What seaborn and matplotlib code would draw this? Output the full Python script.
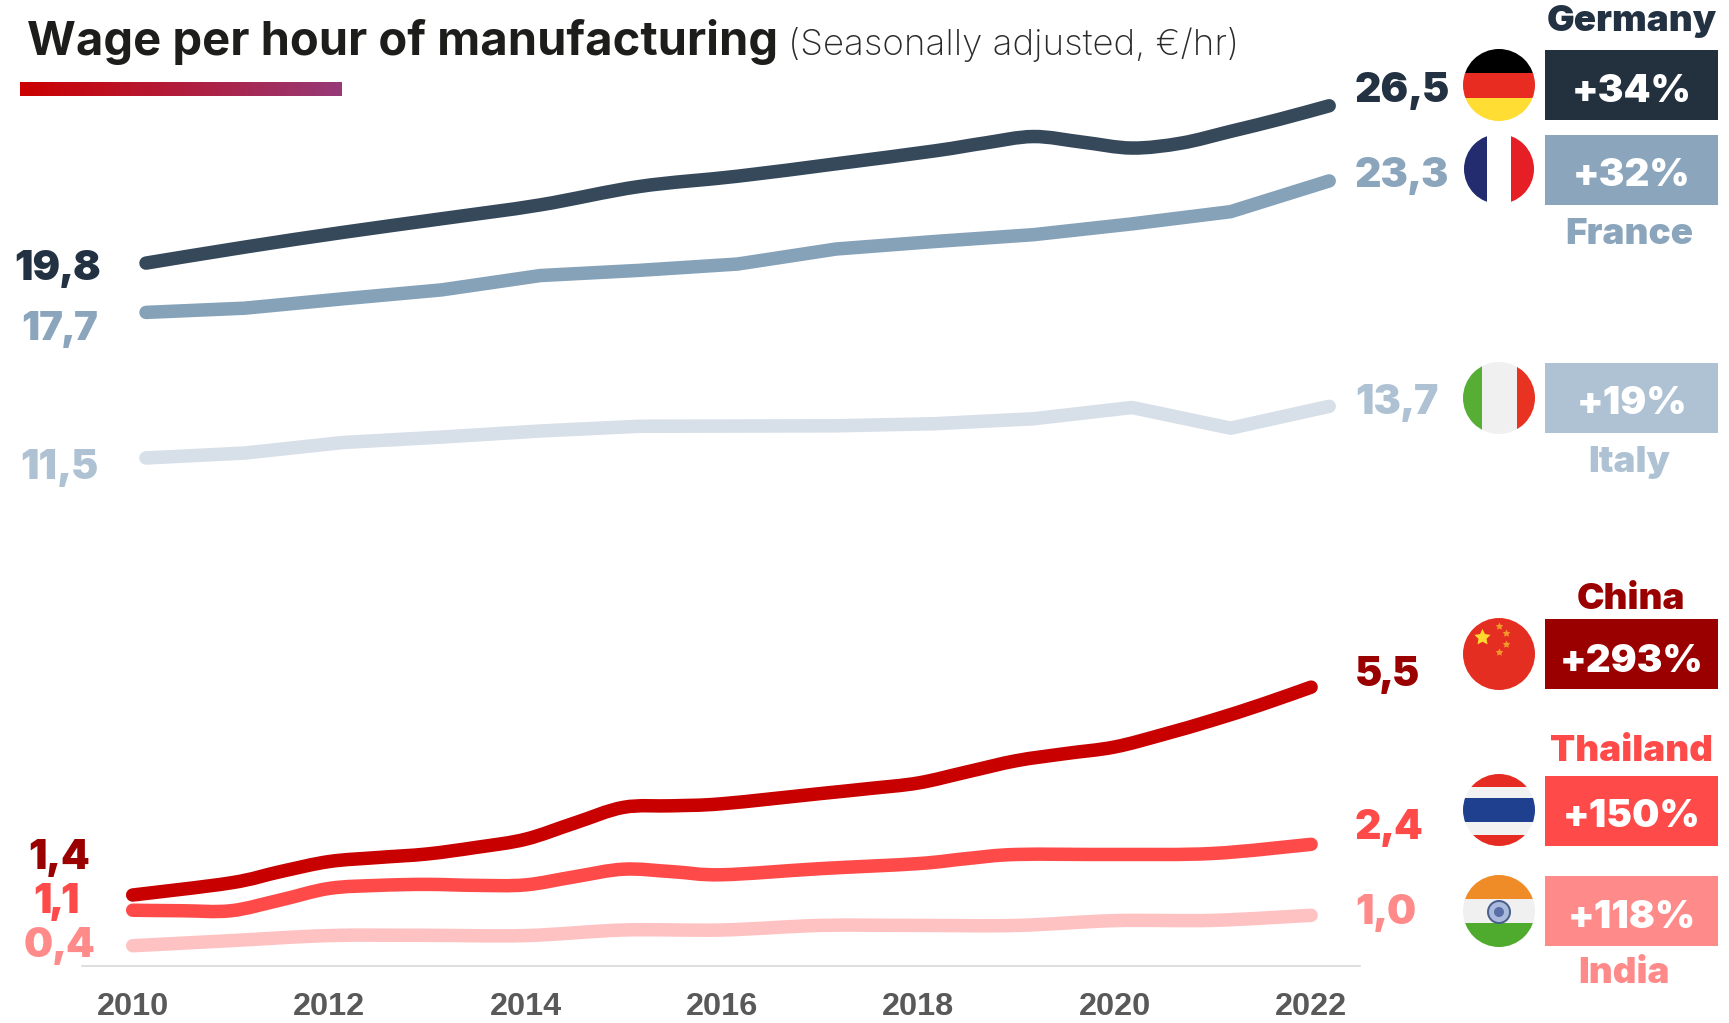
import numpy as np
import pandas as pd
import seaborn as sns
import matplotlib
matplotlib.use("Agg")
import matplotlib.pyplot as plt
from matplotlib.patches import Circle, Rectangle
from matplotlib.path import Path
from matplotlib.patheffects import AbstractPathEffect
from matplotlib.transforms import IdentityTransform

W, H, DPI = 1729, 1023, 100
PX = 72 / DPI

# Hourly wages, upper group (EUR/hr)
GERMANY_YEARS = [2010, 2011, 2012, 2013, 2014, 2015, 2016, 2017, 2018, 2018.5, 2019,
                 2019.5, 2020, 2020.5, 2021, 2021.5, 2022]
GERMANY = [19.8, 20.48, 21.11, 21.69, 22.28, 23.06, 23.50, 24.03, 24.58, 24.91, 25.19,
           24.95, 24.70, 24.91, 25.41, 25.93, 26.5]
YEARS = list(range(2010, 2023))
FRANCE = [17.7, 17.88, 18.28, 18.66, 19.27, 19.49, 19.76, 20.40, 20.72, 21.01, 21.47, 21.99, 23.3]
ITALY = [11.5, 11.71, 12.16, 12.39, 12.65, 12.85, 12.86, 12.87, 12.96, 13.17, 13.65, 12.77, 13.7]

# Hourly wages, lower group (EUR/hr)
CHINA_YEARS = [2010, 2011, 2011.5, 2012, 2012.5, 2013, 2013.5, 2014, 2014.5, 2015, 2015.5, 2016,
               2017, 2017.5, 2018, 2018.5, 2019, 2019.5, 2020, 2020.5, 2021, 2021.5, 2022]
CHINA = [1.4, 1.64, 1.86, 2.06, 2.14, 2.21, 2.34, 2.50, 2.82, 3.13, 3.16, 3.20,
         3.40, 3.50, 3.61, 3.83, 4.05, 4.19, 4.32, 4.57, 4.85, 5.16, 5.5]
THAILAND_YEARS = [2010, 2010.5, 2011, 2011.5, 2012, 2012.5, 2013, 2013.5, 2014, 2014.5, 2015,
                  2015.5, 2016, 2017, 2018, 2018.5, 2019, 2020, 2021, 2022]
THAILAND = [1.1, 1.09, 1.09, 1.30, 1.53, 1.59, 1.61, 1.59, 1.60, 1.76, 1.91,
            1.86, 1.80, 1.92, 2.02, 2.12, 2.20, 2.20, 2.22, 2.4]
INDIA = [0.4, 0.5, 0.6, 0.605, 0.6, 0.71, 0.71, 0.80, 0.80, 0.80, 0.895, 0.90, 1.0]

TICK_YEARS = list(range(2010, 2023, 2))

START_LABELS = ["19,8", "17,7", "11,5", "1,4", "1,1", "0,4"]
END_LABELS = ["26,5", "23,3", "13,7", "5,5", "2,4", "1,0"]
CHANGES = ["+34%", "+32%", "+19%", "+293%", "+150%", "+118%"]
COUNTRIES = ["Germany", "France", "Italy", "China", "Thailand", "India"]

LINE_COLORS = {"Germany": "#36495B", "France": "#86A2B9", "Italy": "#D7DFE8",
               "China": "#C90000", "Thailand": "#FF4A4A", "India": "#FFC2C2"}
TEXT_COLORS = ["#233242", "#8AA5BC", "#AEC2D3", "#9B0000", "#FF4A4A", "#FF8A8A"]
BOX_COLORS = ["#23313F", "#8AA5BC", "#AEC2D3", "#9B0000", "#FF4A4A", "#FF8A8A"]
SMOOTH_SERIES = {"Germany", "China", "Thailand", "India"}


class SmoothStroke(AbstractPathEffect):
    """Strokes a polyline as a Catmull-Rom curve through its own vertices."""

    def draw_path(self, renderer, gc, tpath, affine, rgbFace=None):
        pts = affine.transform(tpath.vertices)
        pad = np.vstack([pts[0], pts, pts[-1]])
        verts, codes = [pts[0]], [Path.MOVETO]
        for i in range(1, len(pad) - 2):
            p0, p1, p2, p3 = pad[i - 1], pad[i], pad[i + 1], pad[i + 2]
            verts += [p1 + (p2 - p0) / 6, p2 - (p3 - p1) / 6, p2]
            codes += [Path.CURVE4] * 3
        renderer.draw_path(gc, Path(np.array(verts), codes), IdentityTransform(), None)


def long_table(rows):
    return pd.DataFrame(
        [(name, y, v) for name, ys, vs in rows for y, v in zip(ys, vs)],
        columns=["country", "year", "wage"],
    )


upper = long_table([("Germany", GERMANY_YEARS, GERMANY), ("France", YEARS, FRANCE), ("Italy", YEARS, ITALY)])
lower = long_table([("China", CHINA_YEARS, CHINA), ("Thailand", THAILAND_YEARS, THAILAND), ("India", YEARS, INDIA)])

sns.set_theme(style="white")
plt.rcParams["font.family"] = ["Inter", "DejaVu Sans"]

fig = plt.figure(figsize=(W / DPI, H / DPI), dpi=DPI, facecolor="white")


def px_axes(left, right, top, bottom):
    return fig.add_axes([left / W, 1 - bottom / H, (right - left) / W, (bottom - top) / H])


# The two groups have separate vertical scales, each on its own axes.
ax_low = px_axes(82, 1360, 600, 966)
ax_low.set_xlim(2010 - (132.7 - 82) / 98.2, 2010 + (1360 - 132.7) / 98.2)
ax_low.set_ylim(0, (966 - 600) / 50.7)
ax_up = px_axes(82, 1360, 60, 728)
ax_up.set_xlim(2010 - (146 - 82) / 98.6, 2010 + (1360 - 146) / 98.6)
ax_up.set_ylim(0, (728 - 60) / 23.48)

for ax, table in ((ax_low, lower), (ax_up, upper)):
    order = list(table["country"].unique())
    sns.lineplot(data=table, x="year", y="wage", hue="country", hue_order=order, palette=LINE_COLORS,
                 errorbar=None, estimator=None, linewidth=13.5 * PX, legend=False, ax=ax,
                 solid_capstyle="round", solid_joinstyle="round")
    for ln, name in zip(ax.get_lines(), order):
        ln.set_solid_capstyle("round")
        ln.set_clip_on(False)
        if name in SMOOTH_SERIES:
            ln.set_path_effects([SmoothStroke()])
    ax.set_xlabel("")
    ax.set_ylabel("")
    ax.set_yticks([])
    ax.patch.set_alpha(0)

sns.despine(ax=ax_up, left=True, bottom=True)
ax_up.set_xticks([])
sns.despine(ax=ax_low, left=True)
ax_low.spines["bottom"].set_color("#D4D4D4")
ax_low.spines["bottom"].set_linewidth(1.5 * PX)
ax_low.set_xticks(TICK_YEARS)
ax_low.set_xticklabels([str(y) for y in TICK_YEARS], family="Liberation Sans", fontweight="bold",
                       fontsize=32.5 * PX, color="#595959")
ax_low.tick_params(axis="x", length=0, pad=26 * PX)

# Overlay in pixel units for the title, labels, boxes and flags.
ov = fig.add_axes([0, 0, 1, 1], zorder=10)
ov.set_xlim(0, W)
ov.set_ylim(H, 0)
ov.axis("off")
rend = fig.canvas.get_renderer()


def txt(x, y, s, size, color, weight="black", ha="left"):
    return ov.text(x, y, s, fontsize=size * PX, color=color, fontweight=weight, ha=ha, va="baseline",
                   family=["Inter", "DejaVu Sans"])


def width(s, size):
    t = txt(0, 0, s, size, "k")
    w = t.get_window_extent(rend).width
    t.remove()
    return w


def value_label(x, y, s, size, color, kern):
    # Number with a closed-up decimal comma.
    head, tail = s.split(",")
    txt(x, y, head, size, color)
    txt(x + width(head + ",", size) - width(",", size) - kern / 2, y, ",", size, color)
    txt(x + width(s, size) - width(tail, size) - kern, y, tail, size, color)


txt(27.5, 55, "Wage per hour of manufacturing", 47.1, "#1D1D1B", weight="bold")
txt(788, 55, "(Seasonally adjusted, €/hr)", 36.7, "#2A2A2A", weight="light")

bar = np.linspace(0, 1, 256)[None, :, None]
bar_rgb = (1 - bar) * np.array([0xCC, 0x00, 0x00]) / 255 + bar * np.array([0x96, 0x3A, 0x78]) / 255
ov.imshow(bar_rgb, extent=(20, 342, 96, 82), aspect="auto", zorder=1)
ov.set_xlim(0, W)
ov.set_ylim(H, 0)

# Start and end values
START_POS = [(14, 280), (21, 340.5), (20, 479), (28, 869), (33, 913), (24, 957)]
START_SIZE = [41, 40, 41, 41, 41, 41]
START_KERN = [3, 4, 1, 1, 6, 3]
END_POS = [(1355, 102), (1355, 187), (1355, 414), (1355, 686), (1355, 839), (1355, 924)]
END_KERN = [2, 4, 2, 6, 3, 2]
for s, (x, y), c, k, size in zip(START_LABELS, START_POS, TEXT_COLORS, START_KERN, START_SIZE):
    value_label(x, y, s, size, c, k)
for s, (x, y), c, k in zip(END_LABELS, END_POS, TEXT_COLORS, END_KERN):
    value_label(x, y, s, 41, c, k)

# Change boxes and country names
BOX_SPANS = [(50, 120), (135, 205), (363, 433), (619, 689), (776, 846), (876, 946)]
CHANGE_BASE = [102, 186, 414, 672, 827, 928]
NAME_POS = [(1632, 31), (1629, 244), (1629, 472), (1631, 609), (1632, 761), (1624, 983)]
for (y0, y1), col, s, base, name, (nx, ny), tc in zip(BOX_SPANS, BOX_COLORS, CHANGES, CHANGE_BASE,
                                                      COUNTRIES, NAME_POS, TEXT_COLORS):
    ov.add_patch(Rectangle((1545, y0), 173, y1 - y0, color=col, lw=0))
    txt(1632, base, s, 38.5, "white", ha="center")
    txt(nx, ny, name, 36.8, tc, ha="center")


def flag(cy, bands, vertical=False, cx=1499, r=36):
    clip = Circle((cx, cy), r, transform=ov.transData)
    for start, stop, color in bands:
        if vertical:
            p = Rectangle((start, cy - r), stop - start, 2 * r, color=color, lw=0, zorder=3)
        else:
            p = Rectangle((cx - r, start), 2 * r, stop - start, color=color, lw=0, zorder=3)
        ov.add_patch(p)
        p.set_clip_path(clip)


flag(85, [(49, 73, "#000000"), (73, 98, "#E82C22"), (98, 121, "#FFDD33")])
flag(169, [(1463, 1487, "#232C6E"), (1487, 1511, "#FFFFFF"), (1511, 1535, "#E61E26")], vertical=True, r=35)
flag(398, [(1463, 1482, "#57AE35"), (1482, 1517, "#F0F0F0"), (1517, 1535, "#E83222")], vertical=True)
flag(654, [(618, 690, "#E52E22")])
flag(810, [(774, 787, "#E62C22"), (787, 798, "#F2F2F2"), (798, 822, "#1F3F8F"),
           (822, 835, "#F2F2F2"), (835, 846, "#E62C22")])
flag(911, [(875, 899, "#F08C28"), (899, 923, "#F0F0F0"), (923, 947, "#4FAB2E")])

# Stars of the Chinese flag
ov.scatter([1482], [637], marker=(5, 1), s=(17 * PX) ** 2, color="#FFD92E", lw=0, zorder=4)
ov.scatter([1499, 1506, 1506, 1499], [626, 633, 644, 652], marker=(5, 1), s=(8 * PX) ** 2,
           color="#F19A2A", lw=0, zorder=4)
# Wheel of the Indian flag
ov.add_patch(Circle((1499, 912), 11, fc="#A9BADD", ec="#4A5F8C", lw=2 * PX, zorder=4))
ov.add_patch(Circle((1499, 912), 5, fc="#5A6FA8", lw=0, zorder=5))

fig.savefig("out.png", dpi=DPI, facecolor="white")
